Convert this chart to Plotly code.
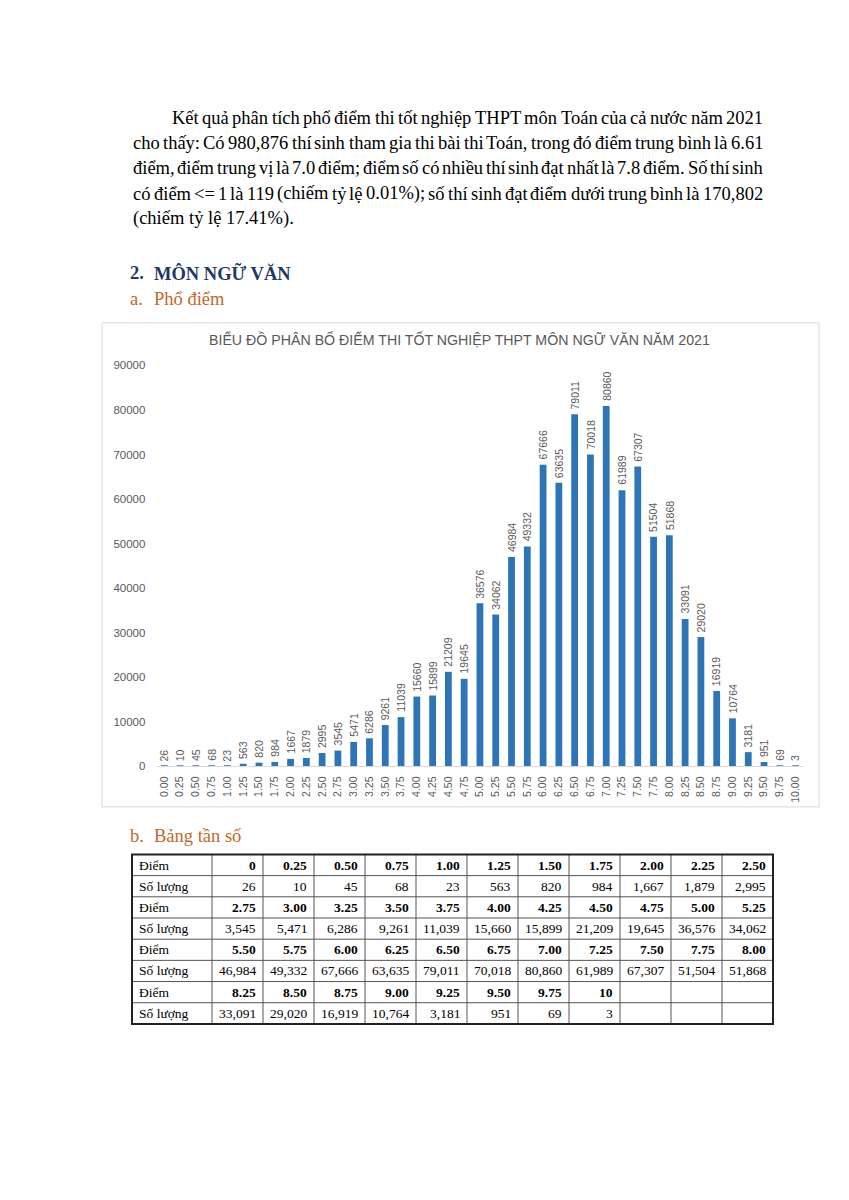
import glob
import plotly.graph_objects as go

W, H = 849, 1200

# ---------------- data ----------------
score_labels = ["0.00", "0.25", "0.50", "0.75", "1.00", "1.25", "1.50", "1.75", "2.00", "2.25",
                "2.50", "2.75", "3.00", "3.25", "3.50", "3.75", "4.00", "4.25", "4.50", "4.75",
                "5.00", "5.25", "5.50", "5.75", "6.00", "6.25", "6.50", "6.75", "7.00", "7.25",
                "7.50", "7.75", "8.00", "8.25", "8.50", "8.75", "9.00", "9.25", "9.50", "9.75",
                "10.00"]
counts = [26, 10, 45, 68, 23, 563, 820, 984, 1667, 1879,
          2995, 3545, 5471, 6286, 9261, 11039, 15660, 15899, 21209, 19645,
          36576, 34062, 46984, 49332, 67666, 63635, 79011, 70018, 80860, 61989,
          67307, 51504, 51868, 33091, 29020, 16919, 10764, 3181, 951, 69,
          3]
table_score_labels = ["0", "0.25", "0.50", "0.75", "1.00", "1.25", "1.50", "1.75", "2.00", "2.25",
                      "2.50", "2.75", "3.00", "3.25", "3.50", "3.75", "4.00", "4.25", "4.50", "4.75",
                      "5.00", "5.25", "5.50", "5.75", "6.00", "6.25", "6.50", "6.75", "7.00", "7.25",
                      "7.50", "7.75", "8.00", "8.25", "8.50", "8.75", "9.00", "9.25", "9.50", "9.75",
                      "10"]
y_ticks = [0, 10000, 20000, 30000, 40000, 50000, 60000, 70000, 80000, 90000]

chart_title = "BIỂU ĐỒ PHÂN BỐ ĐIỂM THI TỐT NGHIỆP THPT MÔN NGỮ VĂN NĂM 2021"
paragraph_lines = [
    "Kết quả phân tích phổ điểm thi tốt nghiệp THPT môn Toán của cả nước năm 2021",
    "cho thấy: Có 980,876 thí sinh tham gia thi bài thi Toán, trong đó điểm trung bình là 6.61",
    "điểm, điểm trung vị là 7.0 điểm; điểm số có nhiều thí sinh đạt nhất là 7.8 điểm. Số thí sinh",
    "có điểm <= 1 là 119 (chiếm tỷ lệ 0.01%); số thí sinh đạt điểm dưới trung bình là 170,802",
    "(chiếm tỷ lệ 17.41%).",
]
heading_num, heading_text = "2.", "MÔN NGỮ VĂN"
sub_a_num, sub_a_text = "a.", "Phổ điểm"
sub_b_num, sub_b_text = "b.", "Bảng tần số"
row_label_score = "Điểm"
row_label_count = "Số lượng"

# ---------------- helpers ----------------
def px(x):
    return x / W


def py(y):
    return 1 - y / H


SERIF = "Liberation Serif, Times New Roman, serif"
SANS = "Liberation Sans"
GREY = "#595959"
BLUE = "#2E75B6"


def esc(s):
    return s.replace("&", "&amp;").replace("<", "&lt;").replace(">", "&gt;")


def measure(words, size):
    try:
        from PIL import ImageFont
        paths = glob.glob("/usr/share/fonts/**/LiberationSerif-Regular.ttf", recursive=True)
        f = ImageFont.truetype(paths[0], int(round(size * 8)))
        return [f.getlength(w) / 8.0 for w in words]
    except Exception:
        return None


def txt(x, y, t, size, color, family=SERIF, xanchor="left", yanchor="middle"):
    return dict(x=px(x), y=py(y), xref="paper", yref="paper", text=t, showarrow=False,
                xanchor=xanchor, yanchor=yanchor, borderpad=0, borderwidth=0,
                font=dict(family=family, size=size, color=color))


annotations = []
PFS = 18.5
line_y = [113, 138.5, 164, 189.5, 215]
for i, line in enumerate(paragraph_lines):
    x0 = 172 if i == 0 else 133
    x1 = 763
    words = line.split(" ")
    widths = measure(words, PFS) if i < 4 else None
    if widths:
        gap = (x1 - x0 - sum(widths)) / (len(words) - 1)
        xc = x0
        for w, wd in zip(words, widths):
            annotations.append(txt(xc, line_y[i], esc(w), PFS, "#000000"))
            xc += wd + gap
    else:
        annotations.append(txt(x0, line_y[i], esc(line), PFS, "#000000"))

NAVY = "#1F3864"
ORANGE = "#C0692B"
for (num, t, y, col, bold) in [(heading_num, heading_text, 270, NAVY, True),
                               (sub_a_num, sub_a_text, 296, ORANGE, False),
                               (sub_b_num, sub_b_text, 838, ORANGE, False)]:
    for xx, s in [(130, num), (154, t)]:
        annotations.append(txt(xx, y, ("<b>%s</b>" % s) if bold else s, 18.5, col))

# chart title
annotations.append(txt(460, 337, chart_title, 14.2, GREY, family=SANS, xanchor="center"))

# data labels above bars (category index positions)
for i, c in enumerate(counts):
    annotations.append(dict(x=i, y=c, xref="x", yref="y", text=str(c), showarrow=False,
                            textangle=-90, xanchor="center", yanchor="bottom", yshift=5,
                            borderpad=0, borderwidth=0,
                            font=dict(family=SANS, size=10.5, color=GREY)))

fig = go.Figure()
fig.add_trace(go.Bar(x=score_labels, y=counts, marker=dict(color=BLUE, line=dict(width=0)),
                     hoverinfo="x+y"))

# ---------------- table (drawn with lines + text) ----------------
n_cols = 11
T_LEFT, T_TOP, COL0_W, COL_W, ROW_H = 132, 857, 80, 51, 21.4
blocks = [list(range(b * n_cols, min((b + 1) * n_cols, len(counts)))) for b in range(4)]
n_rows = 2 * len(blocks)
T_RIGHT = T_LEFT + COL0_W + n_cols * COL_W
T_BOTTOM = T_TOP + n_rows * ROW_H
TFS = 13.5

for bi, blk in enumerate(blocks):
    r_score, r_count = 2 * bi, 2 * bi + 1
    yc_s = T_TOP + (r_score + 0.5) * ROW_H
    yc_c = T_TOP + (r_count + 0.5) * ROW_H
    annotations.append(txt(T_LEFT + 7, yc_s, row_label_score, TFS, "#000000"))
    annotations.append(txt(T_LEFT + 7, yc_c, row_label_count, TFS, "#000000"))
    for j, idx in enumerate(blk):
        xr = T_LEFT + COL0_W + (j + 1) * COL_W - 7
        annotations.append(txt(xr, yc_s, "<b>%s</b>" % table_score_labels[idx], TFS, "#000000",
                               xanchor="right"))
        annotations.append(txt(xr, yc_c, "{:,}".format(counts[idx]), TFS, "#000000",
                               xanchor="right"))

shapes = [
    dict(type="rect", xref="paper", yref="paper", x0=px(102), x1=px(819), y0=py(809), y1=py(320),
         line=dict(color="#D9D9D9", width=1), fillcolor="rgba(0,0,0,0)", layer="below"),
]
LINE_C = "#555555"
for r in range(1, n_rows):
    yy = T_TOP + r * ROW_H
    shapes.append(dict(type="line", xref="paper", yref="paper", x0=px(T_LEFT), x1=px(T_RIGHT),
                       y0=py(yy), y1=py(yy), line=dict(color=LINE_C, width=1)))
for c in range(n_cols):
    xx = T_LEFT + COL0_W + c * COL_W
    shapes.append(dict(type="line", xref="paper", yref="paper", x0=px(xx), x1=px(xx),
                       y0=py(T_TOP), y1=py(T_BOTTOM), line=dict(color=LINE_C, width=1)))
shapes.append(dict(type="rect", xref="paper", yref="paper", x0=px(T_LEFT), x1=px(T_RIGHT),
                   y0=py(T_BOTTOM), y1=py(T_TOP), line=dict(color="#222222", width=2),
                   fillcolor="rgba(0,0,0,0)"))

fig.update_layout(
    width=W, height=H, autosize=False,
    margin=dict(l=0, r=0, t=0, b=0),
    paper_bgcolor="white", plot_bgcolor="white",
    showlegend=False, bargap=0.57,
    annotations=annotations, shapes=shapes,
    xaxis=dict(domain=[px(156.4), px(803.5)], type="category", tickangle=-90,
               tickfont=dict(family=SANS, size=10.5, color=GREY), showline=True,
               linecolor="#D9D9D9", linewidth=1, ticks="", showgrid=False,
               ticklabelstandoff=5, fixedrange=True),
    yaxis=dict(domain=[py(768), py(363)], range=[0, 90000], tickvals=y_ticks, tickformat="d",
               tickfont=dict(family=SANS, size=11.5, color=GREY), showgrid=False,
               zeroline=False, showline=False, ticks="", ticklabelstandoff=10,
               fixedrange=True),
)

fig.write_html("out.html", config={"displayModeBar": False},
               post_script="document.body.style.margin='0';")
